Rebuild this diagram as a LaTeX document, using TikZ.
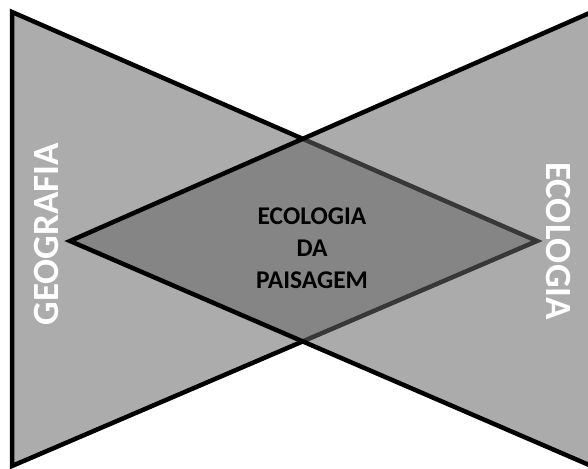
\documentclass[tikz,border=0pt]{standalone}
\usepackage{fontspec}
\setmainfont{Carlito}
\definecolor{cinzaesq}{gray}{0.675}
\definecolor{cinzadir}{gray}{0.40}
\tikzset{
  lado/.style={line width=4.5pt, draw=black, line join=miter},
  rotulolado/.style={white, font=\fontsize{37}{40}\selectfont\bfseries, inner sep=0pt},
  rotulocentro/.style={black, font=\fontsize{25.5}{32}\selectfont\bfseries, align=center, inner sep=0pt}
}
\begin{document}
\begin{tikzpicture}[x=1pt, y=-1pt]
  \useasboundingbox (0,0) rectangle (588,468);
  \clip (0,0) rectangle (588,468);
  % Triângulo da esquerda
  \coordinate (esqA) at (12,12);
  \coordinate (esqB) at (12,466);
  \coordinate (esqC) at (537,241);
  \draw[lado, fill=cinzaesq] (esqA) -- (esqC) -- (esqB) -- cycle;
  \node[rotulolado, rotate=90] (geo) at (46,234) {GEOGRAFIA};
  % Triângulo da direita, sobreposto
  \coordinate (dirA) at (610,4);
  \coordinate (dirB) at (610,474);
  \coordinate (dirC) at (70,241);
  \draw[lado, fill=cinzadir, fill opacity=0.55] (dirA) -- (dirC) -- (dirB) -- cycle;
  \node[rotulolado, rotate=-90] (eco) at (558,241) {ECOLOGIA};
  % Losango central
  \node[rotulocentro] (paisagem) at (312,248) {ECOLOGIA\\DA\\PAISAGEM};
\end{tikzpicture}
\end{document}
